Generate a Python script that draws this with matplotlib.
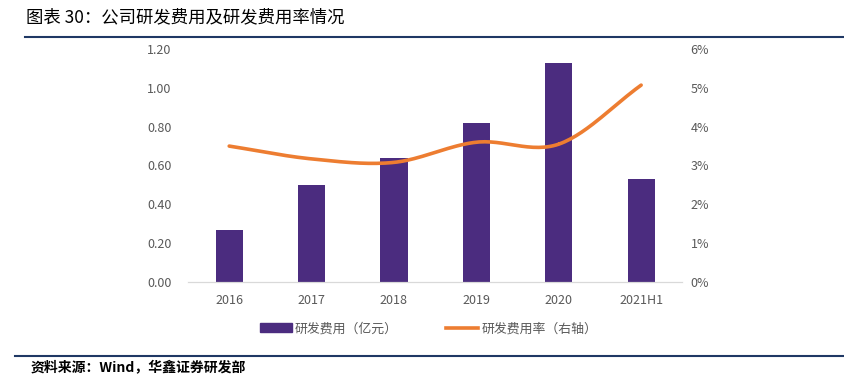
import numpy as np
import matplotlib.pyplot as plt
from matplotlib.lines import Line2D
from matplotlib.patches import Patch

plt.rcParams['font.family'] = ['Noto Sans CJK SC', 'DejaVu Sans']

# data
years = ['2016', '2017', '2018', '2019', '2020', '2021H1']
rd_expense = [0.27, 0.50, 0.64, 0.82, 1.13, 0.53]       # 亿元
rd_ratio = [3.50, 3.17, 3.08, 3.60, 3.55, 5.07]         # %

bar_color = '#4B2C7F'
line_color = '#ED7D31'
tick_color = '#595959'


def smooth(x, y, n=30):
    # catmull-rom style curve through the points, like the "smoothed line" option
    x = np.asarray(x, float)
    y = np.asarray(y, float)
    px = np.concatenate([[2 * x[0] - x[1]], x, [2 * x[-1] - x[-2]]])
    py = np.concatenate([[2 * y[0] - y[1]], y, [2 * y[-1] - y[-2]]])
    xs, ys = [], []
    for i in range(1, len(px) - 2):
        t = np.linspace(0, 1, n)
        for p, out in ((px, xs), (py, ys)):
            p0, p1, p2, p3 = p[i - 1], p[i], p[i + 1], p[i + 2]
            out.extend(0.5 * ((2 * p1) + (-p0 + p2) * t
                              + (2 * p0 - 5 * p1 + 4 * p2 - p3) * t ** 2
                              + (-p0 + 3 * p1 - 3 * p2 + p3) * t ** 3))
    return np.array(xs), np.array(ys)


fig = plt.figure(figsize=(8.45, 3.8), dpi=100)
ax = fig.add_axes([0.2225, 0.258, 0.585, 0.613])
x = np.arange(len(years))
ax.bar(x, rd_expense, width=0.33, color=bar_color, zorder=2)
ax.set_xlim(-0.5, len(years) - 0.5)
ax.set_ylim(0, 1.2)
ax.set_yticks(np.arange(0, 1.21, 0.2))
ax.set_yticklabels(['%.2f' % v for v in np.arange(0, 1.21, 0.2)])
ax.set_xticks(x)
ax.set_xticklabels(years)

ax2 = ax.twinx()
sx, sy = smooth(x, rd_ratio)
ax2.plot(sx, sy, color=line_color, lw=2.6, solid_capstyle='round', zorder=3)
ax2.set_ylim(0, 6)
ax2.set_yticks(range(0, 7))
ax2.set_yticklabels(['%d%%' % v for v in range(0, 7)])

for a in (ax, ax2):
    for s in ('top', 'left', 'right'):
        a.spines[s].set_visible(False)
    a.spines['bottom'].set_color('#D9D9D9')
    a.tick_params(length=0, labelsize=9, colors=tick_color)
ax.tick_params(axis='x', pad=9)
ax.tick_params(axis='y', pad=12)
ax2.tick_params(axis='y', pad=6)

handles = [Patch(color=bar_color), Line2D([0], [0], color=line_color, lw=2.6)]
fig.legend(handles, ['研发费用（亿元）', '研发费用率（右轴）'], loc='center',
           bbox_to_anchor=(0.507, 0.135), ncol=2, frameon=False, fontsize=9.3,
           labelcolor=tick_color, handlelength=2.5, handletextpad=0.25, columnspacing=3.7)

# title and source with rules
fig.text(0.031, 0.955, '图表 30：公司研发费用及研发费用率情况', fontsize=12.5,
         fontweight='medium', va='center', ha='left', color='black')
fig.add_artist(Line2D([0.03, 1.0], [0.903, 0.903], color='#1F3864', lw=1.5))
fig.add_artist(Line2D([0.018, 1.0], [0.063, 0.063], color='#1F3864', lw=1.5))
fig.text(0.036, 0.03, '资料来源：Wind，华鑫证券研发部', fontsize=10,
         fontweight='bold', va='center', ha='left', color='black')

fig.savefig('out.png', dpi=100)
